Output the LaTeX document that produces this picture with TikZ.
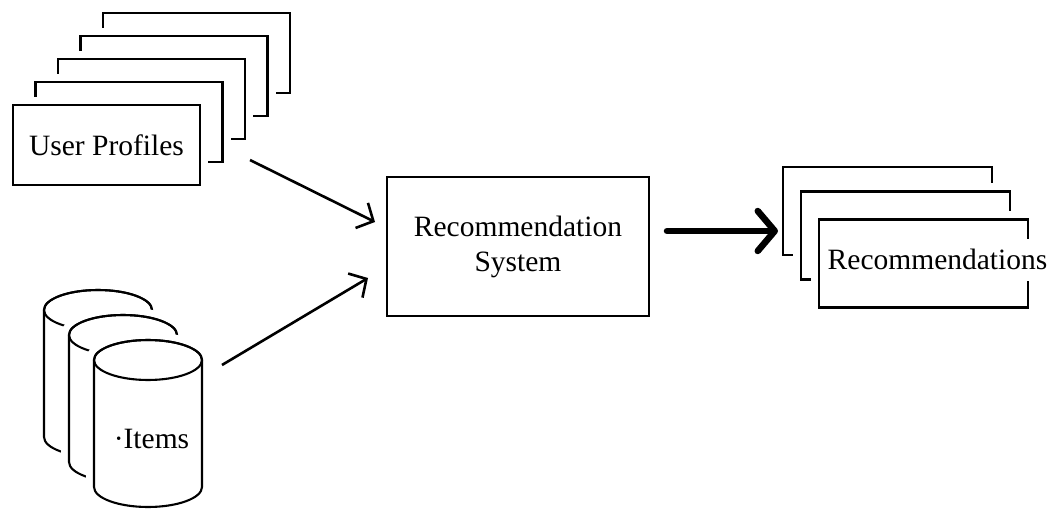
\documentclass[tikz,border=0pt]{standalone}
\usepackage{fontspec}
\setmainfont{Liberation Serif}
\usetikzlibrary{arrows.meta, positioning}

\begin{document}
\begin{tikzpicture}[
    x=1pt, y=1pt,
    line width=2.1pt,
    page/.style={rectangle, draw, fill=white, inner sep=0pt,
                 minimum width=187pt, minimum height=80pt,
                 preaction={draw=white, line width=16pt}},
    recpage/.style={page, minimum width=209pt, minimum height=88pt},
    txt/.style={font=\fontsize{29.5}{35}\selectfont, align=center, inner sep=0pt},
    flow/.style={-{Straight Barb[length=13pt, width=28pt]}, line width=2.6pt},
    bigflow/.style={-{Straight Barb[length=17pt, width=40pt, round]},
                    line width=6.5pt, line cap=round}
]
\useasboundingbox (0,0) rectangle (1054,509);

% stapel gebruikersprofielen
\foreach \i in {4,3,2,1}{
    \node[page] (P\i) at ({106.5+22.5*\i},{364+23*\i}) {};
}
\node[page, txt] (profiles) at (106.5,364) {User Profiles};

% database-cilinders
\foreach \i in {0,1,2}{
    \pgfmathsetmacro{\cx}{98+25*\i}
    \pgfmathsetmacro{\ty}{199-25*\i}
    \draw[fill=white, preaction={draw=white, line width=16pt}]
        (\cx-54,\ty) -- (\cx-54,\ty-127)
        arc[start angle=180, end angle=360, x radius=54, y radius=20]
        -- (\cx+54,\ty)
        arc[start angle=0, end angle=180, x radius=54, y radius=20] -- cycle;
    \draw (\cx,\ty) ellipse[x radius=54, y radius=20];
}
\node[txt, anchor=base] (items) at (151.5,61) {·Items};

% systeem
\node[draw, txt, minimum width=262pt, minimum height=139pt] (recsys) at (518,262.5)
    {Recommendation\\System};

% stapel aanbevelingen
\foreach \i in {0,1}{
    \node[recpage] (R\i) at ({887.5+18*\i},{298-24.5*\i}) {};
}
\node[recpage] (R2) at (923.5,245.5) {};
\node[txt, anchor=base, fill=white, inner xsep=2pt, inner ysep=11pt] (recs)
    at (937.5,239) {Recommendations};

% pijlen
\coordinate (upout) at (250,349);
\coordinate (sysin1) at (375,287);
\coordinate (itout) at (222,144);
\coordinate (sysin2) at (368,231);
\coordinate (sysout) at (667,278);
\coordinate (recin) at (778,278);
\draw[flow] (upout) -- (sysin1);
\draw[flow] (itout) -- (sysin2);
\draw[bigflow] (sysout) -- (recin);
\end{tikzpicture}
\end{document}
